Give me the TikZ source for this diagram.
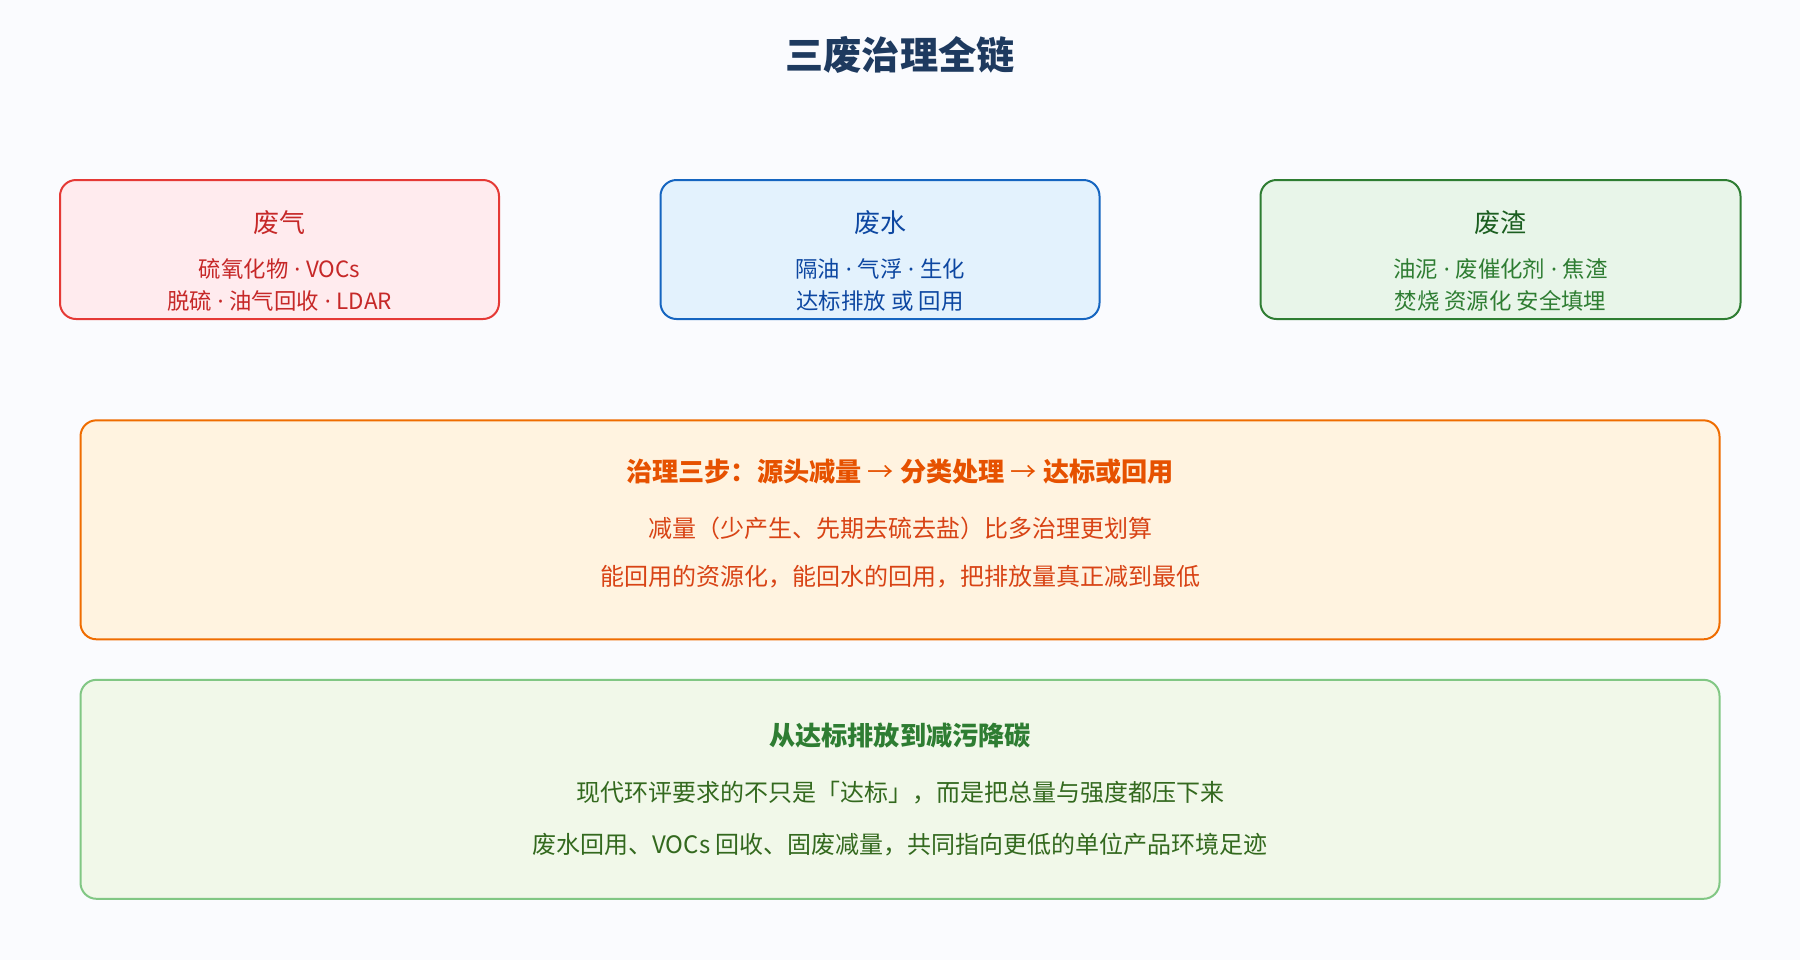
\documentclass[tikz,border=0pt]{standalone}
\usepackage{fontspec}
\newfontfamily\cjk{Noto Sans CJK SC}
\newfontfamily\latin{Noto Sans}
\newcommand{\mdot}{{\latin\ ·\ }}
\usetikzlibrary{calc}
\definecolor{pagebg}{HTML}{FAFBFE}
\definecolor{titlecol}{HTML}{1E3A5F}
\definecolor{gasline}{HTML}{E53935}
\definecolor{gasfill}{HTML}{FFEBEE}
\definecolor{gastext}{HTML}{C62828}
\definecolor{waterline}{HTML}{1565C0}
\definecolor{waterfill}{HTML}{E3F2FD}
\definecolor{watertext}{HTML}{0D47A1}
\definecolor{slagline}{HTML}{2E7D32}
\definecolor{slagfill}{HTML}{E8F5E9}
\definecolor{slagtext}{HTML}{1B5E20}
\definecolor{stepline}{HTML}{EF6C00}
\definecolor{stepfill}{HTML}{FFF3E0}
\definecolor{stephead}{HTML}{E65100}
\definecolor{steptext}{HTML}{D84315}
\definecolor{carbline}{HTML}{81C784}
\definecolor{carbfill}{HTML}{F1F8E9}
\definecolor{carbhead}{HTML}{2E7D32}
\definecolor{carbtext}{HTML}{33691E}
\tikzset{
    card/.style = {draw, rounded corners=8pt, line width=1pt, inner sep=0pt},
    smallcard/.style = {card, minimum width=219.5pt, minimum height=69.5pt},
    widecard/.style = {card, minimum width=819.5pt, minimum height=109.5pt},
    cardhead/.style = {inner sep=0pt, font=\cjk\fontsize{13}{15}\selectfont},
    cardsub/.style = {inner sep=0pt, font=\cjk\fontsize{11.2}{13}\selectfont},
    widehead/.style = {inner sep=0pt, font=\cjk\bfseries\fontsize{13.1}{15}\selectfont},
    widesub/.style = {inner sep=0pt, font=\cjk\fontsize{12}{15}\selectfont},
}
\begin{document}
\begin{tikzpicture}[x=0.5pt, y=-0.5pt]
\fill[pagebg] (0,0) rectangle (1800,960);
\useasboundingbox (0,0) rectangle (1800,960);

\node[inner sep=0pt, text=titlecol, font=\cjk\bfseries\fontsize{19.1}{22}\selectfont] (title) at (900,55) {三废治理全链};

\node[smallcard, draw=gasline, fill=gasfill] (gas) at (279.5,249.5) {};
\node[cardhead, text=gastext] (gashead) at ($(gas.north)+(0,44)$) {废气};
\node[cardsub, text=gastext] (gasa) at ($(gas.north)+(0,89.5)$) {硫氧化物\mdot VOCs};
\node[cardsub, text=gastext] (gasb) at ($(gas.north)+(0,121.6)$) {脱硫\mdot 油气回收\mdot LDAR};

\node[smallcard, draw=waterline, fill=waterfill] (water) at (880,249.5) {};
\node[cardhead, text=watertext] (waterhead) at ($(water.north)+(0,44)$) {废水};
\node[cardsub, text=watertext] (watera) at ($(water.north)+(0,89.5)$) {隔油\mdot 气浮\mdot 生化};
\node[cardsub, text=watertext] (waterb) at ($(water.north)+(0,121.6)$) {达标排放 或 回用};

\node[smallcard, minimum width=240pt, draw=slagline, fill=slagfill] (slag) at (1500.5,249.5) {};
\node[cardhead, text=slagtext] (slaghead) at ($(slag.north)+(0,44)$) {废渣};
\node[cardsub, text=slagline] (slaga) at ($(slag.north)+(0,89.5)$) {油泥\mdot 废催化剂\mdot 焦渣};
\node[cardsub, text=slagline] (slagb) at ($(slag.north)+(0,121.6)$) {焚烧 资源化 安全填埋};

\node[widecard, draw=stepline, fill=stepfill] (steps) at (900,529.8) {};
\node[widehead, text=stephead] (stepshead) at ($(steps.north)+(0,52)$) {治理三步：源头减量 {\mdseries→} 分类处理 {\mdseries→} 达标或回用};
\node[widesub, text=steptext] (stepsa) at ($(steps.north)+(0,109)$) {减量（少产生、先期去硫去盐）比多治理更划算};
\node[widesub, text=steptext] (stepsb) at ($(steps.north)+(0,157)$) {能回用的资源化，能回水的回用，把排放量真正减到最低};

\node[widecard, draw=carbline, fill=carbfill] (carbon) at (900,789.3) {};
\node[widehead, text=carbhead] (carbonhead) at ($(carbon.north)+(0,57)$) {从达标排放到减污降碳};
\node[widesub, text=carbtext] (carbona) at ($(carbon.north)+(0,113.4)$) {现代环评要求的不只是「达标」，而是把总量与强度都压下来};
\node[widesub, text=carbtext] (carbonb) at ($(carbon.north)+(0,166)$) {废水回用、VOCs 回收、固废减量，共同指向更低的单位产品环境足迹};
\end{tikzpicture}
\end{document}
